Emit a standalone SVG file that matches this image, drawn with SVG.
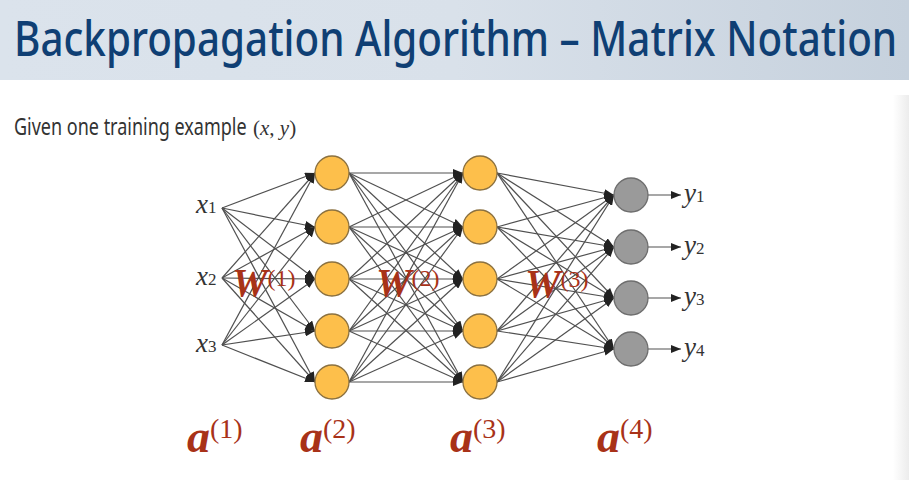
<svg xmlns="http://www.w3.org/2000/svg" width="909" height="480" viewBox="0 0 909 480">
<defs>
<linearGradient id="banner" x1="0" y1="0" x2="1" y2="0">
<stop offset="0" stop-color="#dbe3ec"/>
<stop offset="0.5" stop-color="#d9e1ea"/>
<stop offset="1" stop-color="#c6d1dd"/>
</linearGradient>
<linearGradient id="edge" x1="0" y1="0" x2="1" y2="0">
<stop offset="0" stop-color="#ffffff"/>
<stop offset="1" stop-color="#ececec"/>
</linearGradient>
<marker id="ah" viewBox="0 0 10 8" refX="10" refY="4" markerWidth="10" markerHeight="8" markerUnits="userSpaceOnUse" orient="auto">
<path d="M0,0 L10,4 L0,8 z" fill="#222"/>
</marker>
<style>
.title{font-family:"Noto Sans","Open Sans",sans-serif;font-size:41px;font-weight:500;fill:#0f3f74}
.given{font-family:"Noto Sans","Open Sans",sans-serif;font-size:18px;fill:#333}
.ser{font-family:"Liberation Serif","Times New Roman",serif}
.var{font-family:"Liberation Serif",serif;font-style:italic;font-size:27px;fill:#333}
.sub{font-style:normal;font-size:17px}
.conn line{stroke:#505050;stroke-width:1.2;marker-end:url(#ah)}
.hid{fill:#fdbf4b;stroke:#8b7140;stroke-width:1.3}
.out{fill:#9a9a9a;stroke:#6e6e6e;stroke-width:1.3}
.W{font-family:"Liberation Serif",serif;font-weight:bold;font-style:italic;font-size:40px;fill:#a83218}
.Wsup{font-weight:normal;font-style:normal;font-size:24px}
.A{font-family:"Liberation Serif",serif;font-weight:bold;font-style:italic;font-size:46px;fill:#a83218}
.Asup{font-weight:normal;font-style:normal;font-size:28px}
</style>
</defs>
<rect x="0" y="0" width="909" height="480" fill="#ffffff"/>
<rect x="0" y="0" width="909" height="80" fill="url(#banner)"/>
<rect x="893" y="95" width="16" height="385" fill="url(#edge)"/>
<text class="title" transform="translate(14,56) scale(0.985,1.2)" x="0" y="0">Backpropagation Algorithm – Matrix Notation</text>
<text class="given" transform="translate(14,135) scale(1,1.3)" x="0" y="0">Given one training example</text>
<text class="ser" x="253" y="135" font-size="21" fill="#333">(<tspan font-style="italic">x</tspan>, <tspan font-style="italic">y</tspan>)</text>

<g id="connectors" class="conn">
<line x1="222" y1="208" x2="315" y2="173"/>
<line x1="222" y1="208" x2="315" y2="227"/>
<line x1="222" y1="208" x2="315" y2="279"/>
<line x1="222" y1="208" x2="315" y2="331"/>
<line x1="222" y1="208" x2="315" y2="382"/>
<line x1="222" y1="278" x2="315" y2="173"/>
<line x1="222" y1="278" x2="315" y2="227"/>
<line x1="222" y1="278" x2="315" y2="279"/>
<line x1="222" y1="278" x2="315" y2="331"/>
<line x1="222" y1="278" x2="315" y2="382"/>
<line x1="222" y1="345" x2="315" y2="173"/>
<line x1="222" y1="345" x2="315" y2="227"/>
<line x1="222" y1="345" x2="315" y2="279"/>
<line x1="222" y1="345" x2="315" y2="331"/>
<line x1="222" y1="345" x2="315" y2="382"/>

<line x1="349" y1="173" x2="463" y2="173"/>
<line x1="349" y1="173" x2="463" y2="227"/>
<line x1="349" y1="173" x2="463" y2="279"/>
<line x1="349" y1="173" x2="463" y2="331"/>
<line x1="349" y1="173" x2="463" y2="382"/>
<line x1="349" y1="227" x2="463" y2="173"/>
<line x1="349" y1="227" x2="463" y2="227"/>
<line x1="349" y1="227" x2="463" y2="279"/>
<line x1="349" y1="227" x2="463" y2="331"/>
<line x1="349" y1="227" x2="463" y2="382"/>
<line x1="349" y1="279" x2="463" y2="173"/>
<line x1="349" y1="279" x2="463" y2="227"/>
<line x1="349" y1="279" x2="463" y2="279"/>
<line x1="349" y1="279" x2="463" y2="331"/>
<line x1="349" y1="279" x2="463" y2="382"/>
<line x1="349" y1="331" x2="463" y2="173"/>
<line x1="349" y1="331" x2="463" y2="227"/>
<line x1="349" y1="331" x2="463" y2="279"/>
<line x1="349" y1="331" x2="463" y2="331"/>
<line x1="349" y1="331" x2="463" y2="382"/>
<line x1="349" y1="382" x2="463" y2="173"/>
<line x1="349" y1="382" x2="463" y2="227"/>
<line x1="349" y1="382" x2="463" y2="279"/>
<line x1="349" y1="382" x2="463" y2="331"/>
<line x1="349" y1="382" x2="463" y2="382"/>

<line x1="497" y1="173" x2="614" y2="195"/>
<line x1="497" y1="173" x2="614" y2="247"/>
<line x1="497" y1="173" x2="614" y2="298"/>
<line x1="497" y1="173" x2="614" y2="349"/>
<line x1="497" y1="227" x2="614" y2="195"/>
<line x1="497" y1="227" x2="614" y2="247"/>
<line x1="497" y1="227" x2="614" y2="298"/>
<line x1="497" y1="227" x2="614" y2="349"/>
<line x1="497" y1="279" x2="614" y2="195"/>
<line x1="497" y1="279" x2="614" y2="247"/>
<line x1="497" y1="279" x2="614" y2="298"/>
<line x1="497" y1="279" x2="614" y2="349"/>
<line x1="497" y1="331" x2="614" y2="195"/>
<line x1="497" y1="331" x2="614" y2="247"/>
<line x1="497" y1="331" x2="614" y2="298"/>
<line x1="497" y1="331" x2="614" y2="349"/>
<line x1="497" y1="382" x2="614" y2="195"/>
<line x1="497" y1="382" x2="614" y2="247"/>
<line x1="497" y1="382" x2="614" y2="298"/>
<line x1="497" y1="382" x2="614" y2="349"/>

<line x1="648" y1="195" x2="681" y2="195"/>
<line x1="648" y1="247" x2="681" y2="247"/>
<line x1="648" y1="298" x2="681" y2="298"/>
<line x1="648" y1="349" x2="681" y2="349"/>
</g>

<g id="x1"><text class="var" x="196" y="213">x<tspan class="sub">1</tspan></text></g>
<g id="x2"><text class="var" x="196" y="285">x<tspan class="sub">2</tspan></text></g>
<g id="x3"><text class="var" x="196" y="352">x<tspan class="sub">3</tspan></text></g>

<g id="h2-1"><circle class="hid" cx="332" cy="173" r="17"/></g>
<g id="h2-2"><circle class="hid" cx="332" cy="227" r="17"/></g>
<g id="h2-3"><circle class="hid" cx="332" cy="279" r="17"/></g>
<g id="h2-4"><circle class="hid" cx="332" cy="331" r="17"/></g>
<g id="h2-5"><circle class="hid" cx="332" cy="382" r="17"/></g>

<g id="h3-1"><circle class="hid" cx="480" cy="173" r="17"/></g>
<g id="h3-2"><circle class="hid" cx="480" cy="227" r="17"/></g>
<g id="h3-3"><circle class="hid" cx="480" cy="279" r="17"/></g>
<g id="h3-4"><circle class="hid" cx="480" cy="331" r="17"/></g>
<g id="h3-5"><circle class="hid" cx="480" cy="382" r="17"/></g>

<g id="o1"><circle class="out" cx="631" cy="195" r="17"/></g>
<g id="o2"><circle class="out" cx="631" cy="247" r="17"/></g>
<g id="o3"><circle class="out" cx="631" cy="298" r="17"/></g>
<g id="o4"><circle class="out" cx="631" cy="349" r="17"/></g>

<g id="y1"><text class="var" x="684" y="202">y<tspan class="sub">1</tspan></text></g>
<g id="y2"><text class="var" x="684" y="254">y<tspan class="sub">2</tspan></text></g>
<g id="y3"><text class="var" x="684" y="305">y<tspan class="sub">3</tspan></text></g>
<g id="y4"><text class="var" x="684" y="356">y<tspan class="sub">4</tspan></text></g>

<g id="W1"><text class="W" x="232" y="296">W<tspan class="Wsup" dy="-10">(1)</tspan></text></g>
<g id="W2"><text class="W" x="376" y="296">W<tspan class="Wsup" dy="-10">(2)</tspan></text></g>
<g id="W3"><text class="W" x="525" y="297">W<tspan class="Wsup" dy="-10">(3)</tspan></text></g>

<g id="a1"><text class="A" x="187" y="452">a<tspan class="Asup" dy="-14">(1)</tspan></text></g>
<g id="a2"><text class="A" x="300" y="452">a<tspan class="Asup" dy="-14">(2)</tspan></text></g>
<g id="a3"><text class="A" x="450" y="452">a<tspan class="Asup" dy="-14">(3)</tspan></text></g>
<g id="a4"><text class="A" x="597" y="452">a<tspan class="Asup" dy="-14">(4)</tspan></text></g>
</svg>
